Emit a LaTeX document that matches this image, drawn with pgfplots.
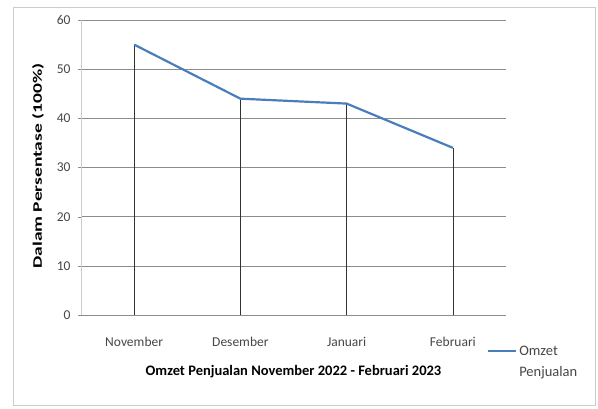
\documentclass[border=0pt]{standalone}
\usepackage{pgfplots}
\pgfplotsset{compat=1.18}
\usepackage{fontspec}
\setmainfont{Carlito}
\definecolor{lineblue}{RGB}{74,126,187}
\definecolor{gridgray}{RGB}{140,140,140}
\definecolor{txtgray}{RGB}{70,70,70}
\begin{document}
\begin{tikzpicture}[x=1pt,y=1pt]
\path[use as bounding box] (0,0) rectangle (598,408);
\draw[gray!40, line width=0.8pt] (13,3) rectangle (595,401);
\begin{axis}[
  at={(81pt,93pt)}, anchor=south west,
  scale only axis, width=425pt, height=295pt,
  xmin=-0.5, xmax=3.5, ymin=0, ymax=60,
  xtick={0,1,2,3}, xticklabels={November,Desember,Januari,Februari},
  ytick={0,10,...,60},
  ymajorgrids, grid style={gridgray, line width=0.6pt},
  axis x line*=bottom, axis y line*=left,
  x axis line style={gridgray, line width=0.6pt},
  y axis line style={gray!40, line width=0.8pt},
  major x tick style={draw=none},
  major y tick style={gridgray},
  tick align=outside, major tick length=3pt,
  /pgf/number format/assume math mode=true,
  tick label style={font=\fontsize{13.5}{13.5}\selectfont, text=txtgray},
  xticklabel style={yshift=-16pt},
  yticklabel style={xshift=-4pt},
  xlabel={\bfseries Omzet Penjualan November 2022 - Februari 2023},
  xlabel style={at={(axis description cs:0.5,-0.193)}, anchor=center, font=\fontsize{14.5}{14.5}\selectfont},
  ylabel={\scalebox{1.5}[1]{\bfseries Dalam Persentase (100\%)}},
  ylabel style={at={(axis description cs:-0.101,0.505)}, anchor=center, font=\fontsize{13}{13}\selectfont},
  legend style={draw=none, fill=none, at={(axis description cs:0.955,-0.095)}, anchor=north west,
    font=\fontsize{14.5}{14.5}\selectfont, text=txtgray, inner sep=0pt},
  legend cell align=left,
  legend image code/.code={\draw[#1] (0pt,0pt) -- (28pt,0pt);},
]
\addplot[ycomb, black!80, line width=0.6pt, forget plot] coordinates {(0,55)(1,44)(2,43)(3,34)};
\addplot[lineblue, line width=2.2pt] coordinates {(0,55)(1,44)(2,43)(3,34)};
\addlegendentry{\begin{tabular}[t]{@{}l@{}}Omzet\\[7pt]Penjualan\end{tabular}}
\end{axis}
\end{tikzpicture}
\end{document}
